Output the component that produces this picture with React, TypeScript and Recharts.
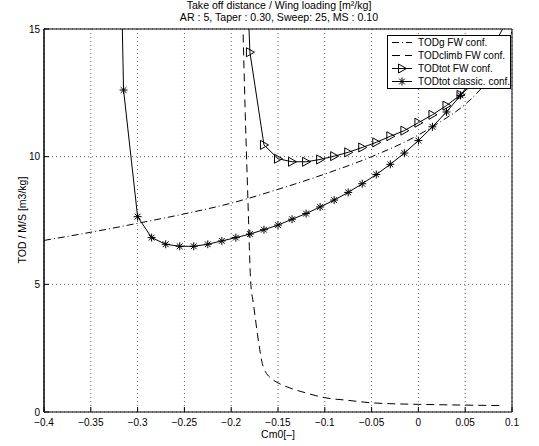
import { LineChart, Line, XAxis, YAxis, CartesianGrid, Legend, ReferenceLine } from 'recharts';

// Cm0 values and TOD / (M/S)
const xTicks = [-0.4, -0.35, -0.3, -0.25, -0.2, -0.15, -0.1, -0.05, 0, 0.05, 0.1];
const yTicks = [0, 5, 10, 15];

// TODg FW conf. (dash-dot)
const todgX = [-0.4, -0.35, -0.3, -0.25, -0.2, -0.15, -0.1, -0.05, 0, 0.025, 0.05, 0.07, 0.085, 0.1];
const todgY = [6.72, 7.04, 7.39, 7.76, 8.18, 8.72, 9.32, 10.0, 10.85, 11.4, 12.05, 12.8, 13.6, 14.9];

// TODclimb FW conf. (dashed)
const climbX = [-0.1876, -0.185, -0.1815, -0.1805, -0.179, -0.1765, -0.1743, -0.172, -0.1695, -0.1668, -0.1634, -0.1582, -0.15, -0.138, -0.1205, -0.1, -0.076, -0.05, -0.025, 0, 0.05, 0.09];
const climbY = [15.3, 11.7, 7.55, 6.3, 5.0, 4.3, 3.7, 3.05, 2.45, 1.9, 1.58, 1.34, 1.14, 0.95, 0.75, 0.56, 0.46, 0.36, 0.32, 0.3, 0.27, 0.25];

// TODtot FW conf. (triangles)
const fwX = [-0.195, -0.18, -0.165, -0.15, -0.135, -0.12, -0.105, -0.09, -0.075, -0.06, -0.045, -0.03, -0.015, 0, 0.015, 0.03, 0.045, 0.06, 0.075, 0.09];
const fwY = [28, 14.09, 10.46, 9.92, 9.8, 9.8, 9.89, 10.02, 10.17, 10.36, 10.56, 10.8, 11.02, 11.33, 11.64, 12.0, 12.42, 12.9, 13.45, 14.05];

// TODtot classic. conf. (stars)
const classicX = [-0.33, -0.315, -0.3, -0.285, -0.27, -0.255, -0.24, -0.225, -0.21, -0.195, -0.18, -0.165, -0.15, -0.135, -0.12, -0.105, -0.09, -0.075, -0.06, -0.045, -0.03, -0.015, 0, 0.015, 0.03, 0.045, 0.06, 0.075, 0.09, 0.105];
const classicY = [40, 12.61, 7.65, 6.83, 6.57, 6.49, 6.49, 6.57, 6.7, 6.83, 6.97, 7.14, 7.32, 7.55, 7.77, 8.03, 8.3, 8.6, 8.94, 9.3, 9.7, 10.14, 10.63, 11.17, 11.75, 12.4, 13.15, 14.0, 15.0, 16.1];

const toPoints = (xs: number[], ys: number[]) => xs.map((x, i) => ({ x, y: ys[i] }));

const todgData = toPoints(todgX, todgY);
const climbData = toPoints(climbX, climbY);
const fwData = toPoints(fwX, fwY);
const classicData = toPoints(classicX, classicY);

const FONT = '"Liberation Sans", Arial, Helvetica, sans-serif';
const DASH_DOT = '7 3 1 3';
const DASHED = '8 5';

const fmt = (v: number) => (v < 0 ? '\u2212' + String(-v) : String(v));

// markers only where the point lies inside the axes box
const inView = (p: any) => p.payload && p.payload.x <= 0.1 && p.payload.y < 15 && p.payload.y >= 0;

const Star = ({ cx, cy, r = 4 }: { cx: number; cy: number; r?: number }) => {
  const d = r * 0.72;
  return (
    <g stroke="#000" strokeWidth={1}>
      <line x1={cx - r} y1={cy} x2={cx + r} y2={cy} />
      <line x1={cx} y1={cy - r} x2={cx} y2={cy + r} />
      <line x1={cx - d} y1={cy - d} x2={cx + d} y2={cy + d} />
      <line x1={cx - d} y1={cy + d} x2={cx + d} y2={cy - d} />
    </g>
  );
};

const Tri = ({ cx, cy }: { cx: number; cy: number }) => (
  <polygon
    points={`${cx - 3.5},${cy - 4.5} ${cx - 3.5},${cy + 4.5} ${cx + 4.5},${cy}`}
    fill="none"
    stroke="#000"
    strokeWidth={1}
  />
);

const StarDot = (p: any) => (inView(p) ? <Star key={p.index} cx={p.cx} cy={p.cy} /> : <g key={p.index} />);
const TriDot = (p: any) => (inView(p) ? <Tri key={p.index} cx={p.cx} cy={p.cy} /> : <g key={p.index} />);

const XTick = (props: any) => {
  const { x, y, payload } = props;
  return (
    <g>
      <line x1={x} y1={y} x2={x} y2={y - 5} stroke="#000" />
      <text x={x} y={y + 14} textAnchor="middle" fontSize={10} fill="#000" fontFamily={FONT}>
        {fmt(payload.value)}
      </text>
    </g>
  );
};

const YTick = (props: any) => {
  const { x, y, payload } = props;
  return (
    <g>
      <line x1={x} y1={y} x2={x + 5} y2={y} stroke="#000" />
      <text x={x - 4} y={y + 3.5} textAnchor="end" fontSize={10} fill="#000" fontFamily={FONT}>
        {payload.value}
      </text>
    </g>
  );
};

const legendItems = [
  { label: 'TODg FW conf.', dash: DASH_DOT, marker: '' },
  { label: 'TODclimb FW conf.', dash: DASHED, marker: '' },
  { label: 'TODtot FW conf.', dash: undefined, marker: 'tri' },
  { label: 'TODtot classic. conf.', dash: undefined, marker: 'star' },
];

const LegendBox = () => (
  <div
    style={{
      border: '1px solid #000',
      background: '#fff',
      width: 124,
      padding: '0 0 0 3px',
      fontFamily: FONT,
      fontSize: 10,
      color: '#000',
      boxSizing: 'border-box',
    }}
  >
    {legendItems.map((it) => (
      <div key={it.label} style={{ display: 'flex', alignItems: 'center', height: 13, whiteSpace: 'nowrap' }}>
        <svg width={22} height={13} style={{ flex: 'none' }}>
          <line x1={1} y1={6.5} x2={21} y2={6.5} stroke="#000" strokeDasharray={it.dash} />
          {it.marker === 'tri' && <Tri cx={11} cy={6.5} />}
          {it.marker === 'star' && <Star cx={11} cy={6.5} />}
        </svg>
        <span style={{ marginLeft: 5 }}>{it.label}</span>
      </div>
    ))}
  </div>
);

export default function App() {
  return (
    <div style={{ position: 'absolute', left: 0, top: 0, width: 539, height: 446, background: '#fff', fontFamily: FONT }}>
      <LineChart width={539} height={446} margin={{ top: 29, right: 27, bottom: 0, left: 0 }}>
        <CartesianGrid stroke="#000" strokeDasharray="1 3" strokeOpacity={0.6} />
        <XAxis
          type="number"
          dataKey="x"
          domain={[-0.4, 0.1]}
          ticks={xTicks}
          allowDataOverflow
          height={34}
          tickSize={0}
          tickMargin={0}
          tick={<XTick />}
          axisLine={{ stroke: '#000' }}
          tickLine={false}
        />
        <YAxis
          type="number"
          dataKey="y"
          domain={[0, 15]}
          ticks={yTicks}
          allowDataOverflow
          width={44}
          tickSize={0}
          tickMargin={0}
          tick={<YTick />}
          axisLine={{ stroke: '#000', strokeWidth: 1.5 }}
          tickLine={false}
        />
        <Line data={todgData} dataKey="y" type="monotone" stroke="#000" strokeWidth={1} strokeDasharray={DASH_DOT} dot={false} isAnimationActive={false} />
        <Line data={climbData} dataKey="y" type="monotone" stroke="#000" strokeWidth={1} strokeDasharray={DASHED} dot={false} isAnimationActive={false} />
        <Line data={fwData} dataKey="y" type="linear" stroke="#000" strokeWidth={1} dot={TriDot} isAnimationActive={false} />
        <Line data={classicData} dataKey="y" type="linear" stroke="#000" strokeWidth={1} dot={StarDot} isAnimationActive={false} />
        <ReferenceLine x={0.1} stroke="#000" />
        <ReferenceLine y={15} stroke="#000" />
        <Legend
          layout="vertical"
          align="center"
          verticalAlign="middle"
          content={() => <LegendBox />}
          wrapperStyle={{ left: 387, top: 35, width: 'auto', height: 'auto' }}
        />
      </LineChart>
      <div style={{ position: 'absolute', left: 0, width: 558, top: -1, textAlign: 'center', fontSize: 10.6, lineHeight: '12px', color: '#000' }}>
        Take off distance / Wing loading [m²/kg]
        <br />
        AR : 5, Taper : 0.30, Sweep: 25, MS : 0.10
      </div>
      <div style={{ position: 'absolute', left: 44, width: 468, top: 428, textAlign: 'center', fontSize: 10.5, color: '#000' }}>
        Cm0[–]
      </div>
      <div
        style={{
          position: 'absolute',
          left: 22,
          top: 220,
          transform: 'translate(-50%, -50%) rotate(-90deg)',
          fontSize: 10.5,
          whiteSpace: 'nowrap',
          color: '#000',
        }}
      >
        TOD / M/S [m3/kg]
      </div>
    </div>
  );
}
